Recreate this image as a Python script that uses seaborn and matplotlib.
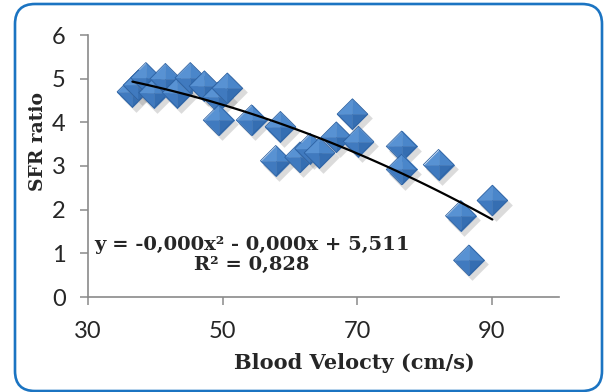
import numpy as np
import pandas as pd
import seaborn as sns
import matplotlib
matplotlib.use("Agg")
import matplotlib.pyplot as plt
from matplotlib.path import Path
from matplotlib.patches import FancyBboxPatch
from matplotlib.transforms import ScaledTranslation

# Blood velocity (cm/s) against SFR ratio
velocity = [36.6, 37.5, 38.6, 39.8, 41.5, 43.3, 45.2, 47.3, 49.3, 50.7,
            49.4, 54.3, 58.6, 57.9, 61.5, 63.0, 64.4, 66.9, 69.3, 70.2,
            76.6, 76.6, 82.1, 85.4, 86.6, 90.1]
sfr_ratio = [4.70, 4.85, 5.02, 4.68, 5.00, 4.68, 5.02, 4.83, 4.57, 4.78,
             4.05, 4.05, 3.90, 3.12, 3.20, 3.40, 3.30, 3.66, 4.19, 3.56,
             3.45, 2.92, 3.03, 1.86, 0.84, 2.21]

x_ticks = [30, 50, 70, 90]
y_ticks = [0, 1, 2, 3, 4, 5, 6]
x_label = "Blood Velocty (cm/s)"
y_label = "SFR ratio"
equation_text = "y = -0,000x² - 0,000x + 5,511"
r2_text = "R² = 0,828"

df = pd.DataFrame({"velocity": velocity, "sfr": sfr_ratio})

sns.set_theme(style="white")
plt.rcParams["font.family"] = ["Lato", "DejaVu Sans"]

W, H = 604, 392
fig = plt.figure(figsize=(W / 100, H / 100), dpi=100)
fig.patch.set_facecolor("white")

# rounded blue frame around the whole chart
frame = FancyBboxPatch((0.15, 0.01), 5.87, 3.87,
                       boxstyle="round,pad=0,rounding_size=0.2",
                       transform=fig.dpi_scale_trans, fill=False,
                       edgecolor="#1b74c2", linewidth=1.9, zorder=0)
fig.patches.append(frame)

ax = fig.add_axes([88 / W, 95 / H, 471 / W, 262 / H])
ax.set_facecolor("none")

# pyramid-style diamond markers: four shaded facets per point
facets = [
    (Path([(0, 0), (-1, 0), (0, 1), (0, 0)], closed=True), "#5892d3"),  # upper left
    (Path([(0, 0), (0, 1), (1, 0), (0, 0)], closed=True), "#4a86ca"),   # upper right
    (Path([(0, 0), (-1, 0), (0, -1), (0, 0)], closed=True), "#407abf"), # lower left
    (Path([(0, 0), (1, 0), (0, -1), (0, 0)], closed=True), "#356eb2"),  # lower right
]
full_diamond = Path([(0, 1), (1, 0), (0, -1), (-1, 0), (0, 1)], closed=True)
marker_size = 22.0 ** 2
shadow_shift = ax.transData + ScaledTranslation(2.5 / 72, -3 / 72, fig.dpi_scale_trans)

z = 3
for vx, vy in zip(df["velocity"], df["sfr"]):
    ax.scatter([vx], [vy], marker=full_diamond, s=23.5 ** 2, color="#7f7f7f",
               alpha=0.28, linewidths=0, transform=shadow_shift, zorder=z)
    for path, col in facets:
        ax.scatter([vx], [vy], marker=path, s=marker_size, color=col,
                   edgecolors=col, linewidths=0.3, zorder=z + 0.1)
    ax.scatter([vx], [vy], marker=full_diamond, s=marker_size, facecolors="none",
               edgecolors="#2d62a3", linewidths=0.6, zorder=z + 0.2)
    z += 0.3

# second-order polynomial trend line
sns.regplot(data=df, x="velocity", y="sfr", order=2, ci=None, scatter=False,
            ax=ax, line_kws={"color": "black", "linewidth": 1.6, "zorder": 50})

ax.set_xlim(30, 100)
ax.set_ylim(0, 6)
ax.set_xticks(x_ticks)
ax.set_yticks(y_ticks)
ax.set_xticklabels([str(t) for t in x_ticks])
ax.set_yticklabels([str(t) for t in y_ticks])

for side in ["top", "right"]:
    ax.spines[side].set_visible(False)
for side in ["left", "bottom"]:
    ax.spines[side].set_color("#8a8a8a")
    ax.spines[side].set_linewidth(1.2)

ax.tick_params(axis="y", direction="out", length=6, width=1.1, color="#8a8a8a",
               pad=10, labelsize=17, left=True)
ax.tick_params(axis="x", direction="out", length=6, width=1.1, color="#8a8a8a",
               pad=11, labelsize=17, bottom=True)

serif = ["DejaVu Serif"]
ax.set_xlabel(x_label, family=serif, fontweight="bold", fontsize=15)
ax.xaxis.set_label_coords(0.565, -0.215)
ax.set_ylabel(y_label, family=serif, fontweight="bold", fontsize=13.5)
ax.yaxis.set_label_coords(-0.088, 0.595)

ax.text(54.4, 0.97, equation_text + "\n" + r2_text, family=serif,
        fontweight="bold", fontsize=14, ha="center", va="center",
        linespacing=1.15, zorder=60)

fig.savefig("out.png", dpi=100, facecolor="white")
